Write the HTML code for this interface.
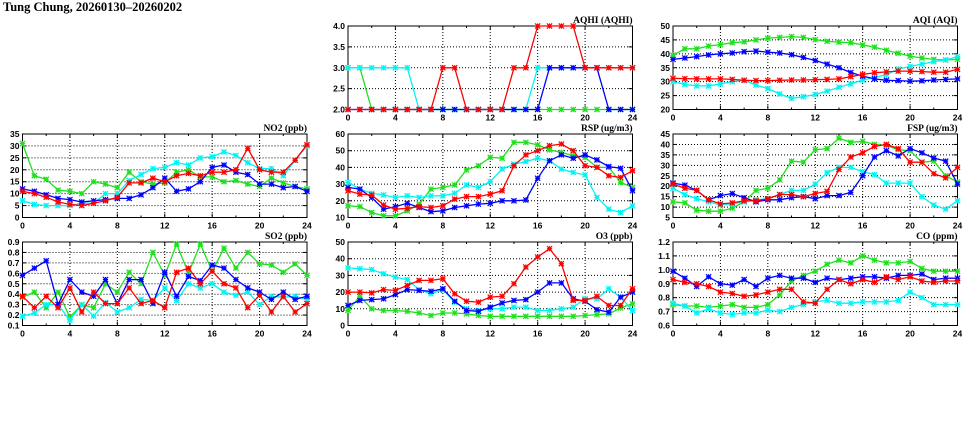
<!DOCTYPE html>
<html><head><meta charset="utf-8"><style>
html,body{margin:0;padding:0;background:#fff;width:975px;height:447px;overflow:hidden}
svg{display:block}
.t{font-family:"Liberation Serif",serif;font-weight:bold;font-size:12.5px}
.p{font-family:"Liberation Serif",serif;font-weight:bold;font-size:9.5px}
.k{font-family:"Liberation Sans",sans-serif;font-weight:bold;font-size:8.5px}
</style></head><body>
<svg id="s" width="975" height="447" viewBox="0 0 975 447" xmlns="http://www.w3.org/2000/svg">
<text class="t" x="3" y="11">Tung Chung, 20260130&#8211;20260202</text>
</svg>
<script>
var S=document.getElementById('s'),NS='http://www.w3.org/2000/svg';
function el(n,a,txt){var e=document.createElementNS(NS,n);for(var k in a)e.setAttribute(k,a[k]);if(txt!=null)e.textContent=txt;S.appendChild(e);return e;}
var C={g:'#1fe01f',c:'#00f4f4',r:'#ff0000',b:'#0000ff'};
var cols=[22.5,348,673],rows=[26,134,242],W=284.5,H=83.5;
var panels=[
{c:1,r:0,t:'AQHI (AQHI)',min:2,max:4,ticks:['2.0','2.5','3.0','3.5','4.0'],tv:[2,2.5,3,3.5,4],d:{
g:[3,3,2,2,2,2,2,2,2,2,2,2,2,2,2,2,2,2,2,2,2,2,2,2,2],
c:[3,3,3,3,3,3,2,2,2,2,2,2,2,2,2,2,3,3,3,3,3,3,3,3,3],
b:[2,2,2,2,2,2,2,2,2,2,2,2,2,2,2,2,2,3,3,3,3,3,2,2,2],
r:[2,2,2,2,2,2,2,2,3,3,2,2,2,2,3,3,4,4,4,4,3,3,3,3,3]}},
{c:2,r:0,t:'AQI (AQI)',min:20,max:50,ticks:['20','25','30','35','40','45','50'],tv:[20,25,30,35,40,45,50],d:{
g:[39.5,41.8,41.8,42.8,43.3,44,44.3,45,45.6,45.9,46.2,45.9,45.1,44.5,44.2,44,43.2,42.4,41.3,40.2,39.2,38.5,38,37.8,38],
c:[30,29,28.5,28.5,29.2,30,30.5,28.8,27.5,25.6,24,24.6,25.4,26.6,28,29.2,30.6,31.5,32.5,34.5,35.5,36.3,37.2,37.8,39],
b:[38,38.5,39,39.6,40,40.3,40.8,41,40.6,40.3,39.7,38.7,37.6,36.3,35,33.3,32,31,30.5,30.4,30.2,30.3,30.6,30.8,31],
r:[31.2,31.1,31,31,31,30.8,30.5,30.4,30.4,30.5,30.6,30.6,30.7,30.8,31,31.8,32.6,33.2,33.5,33.8,33.8,33.6,33.4,33.4,34.4]}},
{c:0,r:1,t:'NO2 (ppb)',min:0,max:35,ticks:['0','5','10','15','20','25','30','35'],tv:[0,5,10,15,20,25,30,35],d:{
g:[31,17.5,16,11.5,11,10,15,14,12.5,19,15,14,14.5,19,20,17,17,15,15.5,14,13,16.5,14.5,13,12],
c:[7,5.5,5,5,5,6,6,10,10,15.5,18,20.5,21,23,22,25,25.5,27.5,26,23,20.5,20.5,17.5,24,30],
b:[12,11,9.5,8,7.5,6.5,7,7.5,8,8,9.5,12.5,16.5,11,12,15,21,22,19,18,14,14,12.5,13,11],
r:[11,10,8.5,6.5,5.5,5,6,7,8.5,14.5,14.5,16.5,15,17.5,18.5,17.5,19,19,20,29,20,19,19,24,30.5]}},
{c:1,r:1,t:'RSP (ug/m3)',min:10,max:60,ticks:['10','20','30','40','50','60'],tv:[10,20,30,40,50,60],d:{
g:[17,16.5,13,11,11,14,18,27,28,29.5,38.5,41,46,45.5,55,55,53.5,50.5,49,47,46,40,40,31,28],
c:[31,27,24.5,23.5,22,23,22,23,23,24.5,29.5,28,31.5,39,42,43.5,45.5,44,39,37,35.5,22,15,13,17],
b:[28,27,22,15,16.5,18.5,16,13.5,14,16,17,18,18.5,20,20,20.5,33.5,44,47.5,45.5,47.5,44.5,40.5,39.5,26],
r:[26,24,23.5,17.5,15,15.5,16.5,16,17,21,22.5,22.5,24,26,41,47.5,50,53,54,50,41,40,35,34,38]}},
{c:2,r:1,t:'FSP (ug/m3)',min:5,max:45,ticks:['5','10','15','20','25','30','35','40','45'],tv:[5,10,15,20,25,30,35,40,45],d:{
g:[12.5,12,8.5,8,8,9.5,12.5,18,19,23,32,31.5,37.5,38,43,41,41.5,40,39.5,37.5,37,31.5,32,25,22],
c:[19,16,14,12.5,11,11.5,12.5,13.5,14,16,18,18,21,26.5,29,29,27,25.5,21.5,21.5,21.5,15,11,9,13],
b:[21.5,20.5,18,13.5,15.5,16.5,14.5,12.5,13.5,13.5,14.5,15,14,15.5,15.5,17,25,34,37,34.5,38,36,33.5,32,21],
r:[21,19,18,13.5,11.5,12,13,13,14,16,16,15,16.5,17.5,28,34,36,39,40,38,31.5,31.5,26,24,29]}},
{c:0,r:2,t:'SO2 (ppb)',min:0.1,max:0.9,ticks:['0.1','0.2','0.3','0.4','0.5','0.6','0.7','0.8','0.9'],tv:[.1,.2,.3,.4,.5,.6,.7,.8,.9],d:{
g:[.37,.42,.27,.42,.18,.3,.27,.5,.42,.61,.5,.8,.58,.88,.6,.88,.62,.84,.65,.8,.69,.68,.61,.69,.58],
c:[.19,.22,.3,.3,.15,.3,.19,.32,.23,.27,.35,.34,.46,.34,.5,.46,.5,.42,.39,.42,.3,.38,.37,.38,.35],
b:[.58,.65,.72,.3,.54,.42,.38,.54,.31,.54,.54,.31,.61,.38,.57,.53,.68,.65,.54,.46,.42,.35,.42,.35,.38],
r:[.38,.27,.38,.27,.46,.23,.42,.31,.31,.46,.31,.34,.27,.61,.65,.5,.62,.5,.46,.27,.39,.23,.38,.23,.31]}},
{c:1,r:2,t:'O3 (ppb)',min:0,max:50,ticks:['0','10','20','30','40','50'],tv:[0,10,20,30,40,50],d:{
g:[9,17.5,10,9,9,8.5,7.5,6,7.5,7.5,7,6,5.5,5.5,5.5,5.5,5.5,5.5,5.5,5.5,6,6.5,7,10.5,13],
c:[34.5,34,33.5,31,29,27.5,21.5,19,21.5,14,10,9,10,10,11,11,9,9,10,11,16,16,22,17,9],
b:[12,15,15.5,16,18.5,21.5,21,20.5,22,14.5,9,8.5,11,13.5,15,15.5,20,25.5,25.5,16,14.5,9.5,8,17,20],
r:[20,20,19.5,21.5,21,24,27,27,28,19,14.5,14,17,17.5,25,35,41,46,37,15,15,17.5,12,12,22]}},
{c:2,r:2,t:'CO (ppm)',min:0.6,max:1.2,ticks:['0.6','0.7','0.8','0.9','1.0','1.1','1.2'],tv:[.6,.7,.8,.9,1,1.1,1.2],d:{
g:[.75,.74,.74,.73,.74,.75,.73,.73,.75,.82,.92,.96,.99,1.04,1.07,1.05,1.1,1.07,1.05,1.05,1.06,1.01,.99,.99,.99],
c:[.76,.74,.69,.72,.69,.68,.69,.69,.71,.7,.73,.75,.77,.78,.76,.76,.77,.77,.77,.78,.84,.8,.75,.75,.75],
b:[.99,.94,.88,.95,.9,.89,.93,.88,.94,.96,.94,.94,.91,.94,.93,.94,.95,.95,.94,.96,.96,.97,.93,.94,.94],
r:[.93,.91,.9,.88,.84,.83,.81,.82,.84,.86,.86,.77,.76,.86,.93,.9,.93,.91,.95,.93,.95,.92,.91,.92,.92]}}
];
var xl=['0','4','8','12','16','20','24'];
panels.forEach(function(p){
  var L=cols[p.c],T=rows[p.r];
  function Y(v){return T+H*(p.max-v)/(p.max-p.min);}
  function X(h){return L+W*h/24;}
  p.tv.forEach(function(v,i){var y=Y(v);
    if(i>0&&i<p.tv.length-1)el('line',{x1:L,x2:L+W,y1:y,y2:y,stroke:'#000','stroke-width':1,'stroke-dasharray':'1,2'});
    el('line',{x1:L,x2:L+4,y1:y,y2:y,stroke:'#000'});el('line',{x1:L+W-4,x2:L+W,y1:y,y2:y,stroke:'#000'});
    el('text',{x:L-3,y:y+3,'text-anchor':'end','class':'k'},p.ticks[i]);});
  for(var h=0;h<=24;h+=2){var x=X(h);
    if(h%4==0&&h>0&&h<24)el('line',{x1:x,x2:x,y1:T,y2:T+H,stroke:'#000','stroke-width':1,'stroke-dasharray':'1,2'});
    var tl=h%4==0?4:2;
    el('line',{x1:x,x2:x,y1:T+H-tl,y2:T+H,stroke:'#000'});el('line',{x1:x,x2:x,y1:T,y2:T+tl,stroke:'#000'});
    if(h%4==0)el('text',{x:x,y:T+H+11,'text-anchor':'middle','class':'k'},xl[h/4]);}
  el('rect',{x:L,y:T,width:W,height:H,fill:'none',stroke:'#000','stroke-width':1});
  el('text',{x:L+W,y:T-3,'text-anchor':'end','class':'p'},p.t);
  ['g','c','b','r'].forEach(function(k){var d=p.d[k],pts=[];
    d.forEach(function(v,h){pts.push(X(h).toFixed(1)+','+Y(v).toFixed(1));});
    el('polyline',{points:pts.join(' '),fill:'none',stroke:C[k],'stroke-width':1.3});
    d.forEach(function(v,h){var x=X(h),y=Y(v),s=2.6;
      el('path',{d:'M'+(x-s)+' '+(y-s)+'L'+(x+s)+' '+(y+s)+'M'+(x-s)+' '+(y+s)+'L'+(x+s)+' '+(y-s)+'M'+(x-s)+' '+y+'L'+(x+s)+' '+y+'M'+x+' '+(y-s)+'L'+x+' '+(y+s),stroke:C[k],'stroke-width':1.2,fill:'none'});});
  });
});
</script>
</body></html>
